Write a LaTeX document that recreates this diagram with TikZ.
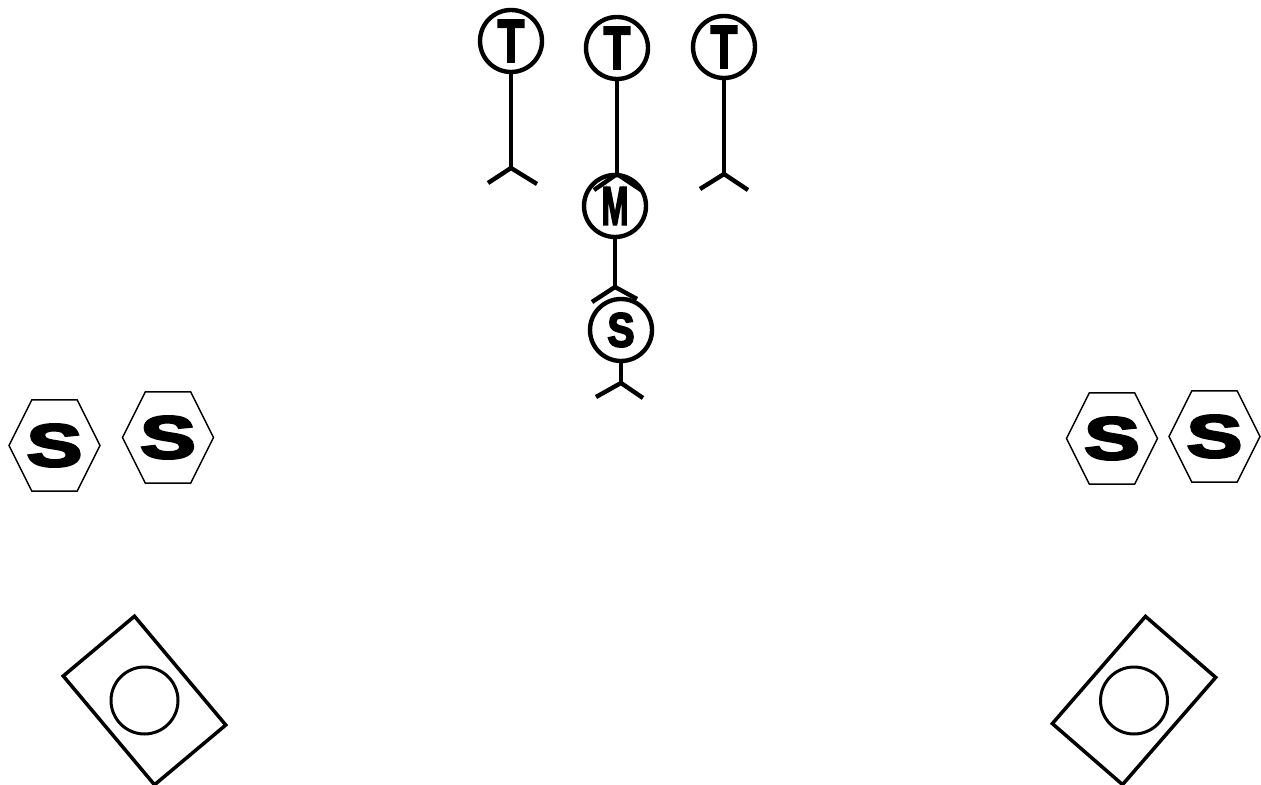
\documentclass[tikz,border=0pt]{standalone}
\usepackage{fontspec}
\setmainfont{Liberation Sans}
\newfontfamily\heavyfont{Liberation Sans Bold}[FakeBold=4]
\usepackage{tikz}
\usetikzlibrary{positioning,shapes,calc}
\tikzset{
  mic/.style={circle, draw, line width=2.2pt, minimum size=31pt, inner sep=0pt, font=\heavyfont\fontsize{30}{30}\selectfont},
  stand/.style={line width=2.2pt},
  spk/.style={regular polygon, regular polygon sides=6, draw, line width=0.75pt, minimum size=45.5pt, inner sep=0pt, yscale=1.155, font=\heavyfont\fontsize{26}{26}\selectfont},
  wedge/.style={rectangle, draw, line width=1.75pt, minimum width=71pt, minimum height=46.5pt, inner sep=0pt},
  cone/.style={circle, draw, line width=1.5pt, minimum size=33.5pt, inner sep=0pt},
}
\newcommand{\narrow}[2]{\scalebox{#1}[1]{#2}}

\begin{document}
\begin{tikzpicture}[x=0.5pt, y=-0.5pt]
\useasboundingbox (0,0) rectangle (1261,785);

% --- vocal mics (top row) ---
\node (t1) [mic] at (511,41) {\narrow{0.72}{T}};
\node (t2) [mic] at (617,48) {\narrow{0.72}{T}};
\node (t3) [mic] at (724,47) {\narrow{0.72}{T}};

% --- centre line: M and S ---
\node (m)  [mic] at (615,206) {\fontsize{27}{27}\selectfont\narrow{0.6}{M}};
\node (s)  [mic] at (621,330) {\fontsize{24}{24}\selectfont\narrow{0.85}{S}};

% --- stands (stem + two legs) ---
\coordinate (t1base) at (511,168);
\draw[stand] (t1) -- (t1base);
\draw[stand] ($(t1base)+(-23,15)$) -- (t1base) -- ($(t1base)+(26,16)$);

\coordinate (t2base) at (617,174);
\draw[stand] (t2) -- (t2base);
\draw[stand] ($(t2base)+(-23,16)$) -- (t2base) -- ($(t2base)+(24,16)$);

\coordinate (t3base) at (724,174);
\draw[stand] (t3) -- (t3base);
\draw[stand] ($(t3base)+(-24,15)$) -- (t3base) -- ($(t3base)+(24,16)$);

\coordinate (mbase) at (615,287);
\draw[stand] (m) -- (mbase);
\draw[stand] ($(mbase)+(-23,15)$) -- (mbase) -- ($(mbase)+(22,12)$);

\coordinate (sbase) at (621,383);
\draw[stand] (s) -- (sbase);
\draw[stand] ($(sbase)+(-25,14)$) -- (sbase) -- ($(sbase)+(22,15)$);

% --- side speakers (hexagons) ---
\node (hs1) [spk] at (54.5,445.5) {\narrow{1.6}{S}};
\node (hs2) [spk] at (168,437.5)  {\narrow{1.6}{S}};
\node (hs3) [spk] at (1112,438.5) {\narrow{1.6}{S}};
\node (hs4) [spk] at (1214.5,436.5) {\narrow{1.6}{S}};

% --- floor wedges ---
\node (wl) [wedge, rotate=-50] at (144.5,700.5) {};
\node (wlc) [cone] at (wl.center) {};
\node (wr) [wedge, rotate=49] at (1134,700.5) {};
\node (wrc) [cone] at (wr.center) {};

\end{tikzpicture}
\end{document}
